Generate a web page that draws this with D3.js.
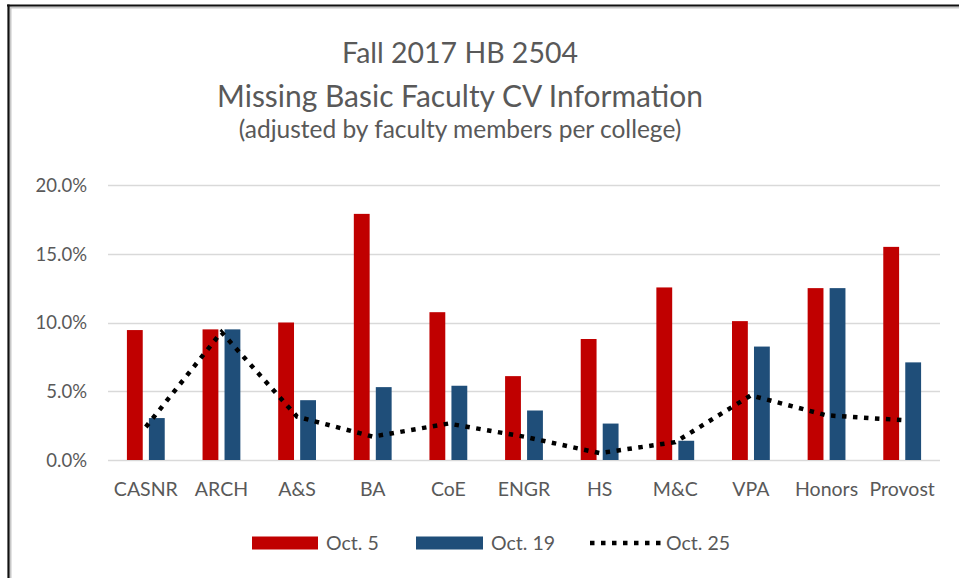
<!DOCTYPE html>
<html><head><meta charset="utf-8">
<script src="https://cdn.jsdelivr.net/npm/d3@7/dist/d3.min.js"></script>
<style>body{margin:0;background:#fff}svg{display:block}</style>
</head><body>
<svg id="c" width="959" height="578"></svg>
<script>
const categories = ["CASNR","ARCH","A&S","BA","CoE","ENGR","HS","M&C","VPA","Honors","Provost"];
const oct5  = [9.45, 9.5, 10.0, 17.9, 10.75, 6.1, 8.8, 12.55, 10.1, 12.5, 15.5];
const oct19 = [3.05, 9.5, 4.35, 5.3, 5.4, 3.6, 2.65, 1.4, 8.25, 12.5, 7.1];
const oct25 = [2.4, 9.3, 3.15, 1.7, 2.65, 1.7, 0.5, 1.3, 4.7, 3.25, 2.9];
const yTicks = [0, 5, 10, 15, 20];
const titleLines = ["Fall 2017 HB 2504", "Missing Basic Faculty CV Information", "(adjusted by faculty members per college)"];
const seriesNames = ["Oct. 5", "Oct. 19", "Oct. 25"];

const FONT = "Lato, 'Open Sans', sans-serif";
const GRAY = "#595959";
const RED = "#C00000", BLUE = "#1F4E79";

const svg = d3.select("#c");

// frame
svg.append("line").attr("x1",8).attr("x2",959).attr("y1",7.5).attr("y2",7.5).attr("stroke","#c8c8c8").attr("stroke-width",2);
svg.append("line").attr("x1",10.5).attr("x2",10.5).attr("y1",6).attr("y2",578).attr("stroke","#c8c8c8").attr("stroke-width",2);
svg.append("line").attr("x1",7).attr("x2",959).attr("y1",5.5).attr("y2",5.5).attr("stroke","#111").attr("stroke-width",2.2);
svg.append("line").attr("x1",8.5).attr("x2",8.5).attr("y1",4.5).attr("y2",578).attr("stroke","#111").attr("stroke-width",2.2);

// title
const titleSpec = [{y:62.5, w:236, fs:30},{y:107, w:486, fs:30},{y:138, w:443, fs:23}];
titleLines.forEach((t,i)=>{
  const s = titleSpec[i];
  const el = svg.append("text").attr("x",460).attr("y",s.y).attr("text-anchor","middle")
    .attr("font-family",FONT).attr("font-size",s.fs).attr("fill",GRAY).text(t);
  const len = el.node().getComputedTextLength();
  el.attr("font-size", s.fs * s.w / len);
});

const x = d3.scaleBand().domain(categories).range([108,940]).paddingInner(0.5).paddingOuter(0.25);
const xi = d3.scaleBand().domain(["a","b"]).range([0, x.bandwidth()]).paddingInner(0.28);
const y = d3.scaleLinear().domain([0,20]).range([460,185]);

// grid
svg.append("g").selectAll("line").data(yTicks).join("line")
  .attr("x1",108).attr("x2",940).attr("y1",d=>Math.round(y(d))+0.5).attr("y2",d=>Math.round(y(d))+0.5)
  .attr("stroke","#D9D9D9").attr("stroke-width",1.3);

// y axis labels
const yAxis = d3.axisLeft(y).tickValues(yTicks).tickFormat(d=>d3.format(".1f")(d)+"%").tickSize(0).tickPadding(0);
const yg = svg.append("g").attr("transform","translate(87,0)").call(yAxis);
yg.select(".domain").remove();
yg.selectAll("text").attr("font-family",FONT).attr("font-size",18.5).attr("fill",GRAY).attr("dy","0.35em");

// x axis labels
const xAxis = d3.axisBottom(x).tickSize(0).tickPadding(0);
const xg = svg.append("g").attr("transform","translate(0,482)").call(xAxis);
xg.select(".domain").remove();
xg.selectAll("text").attr("font-family",FONT).attr("font-size",19.5).attr("fill",GRAY).attr("dy","0.72em");

// bars
const g = svg.append("g");
g.selectAll("rect.r").data(categories).join("rect").attr("class","r")
  .attr("x",(d)=>x(d)+xi("a")).attr("width",xi.bandwidth())
  .attr("y",(d,i)=>y(oct5[i])).attr("height",(d,i)=>y(0)-y(oct5[i])).attr("fill",RED);
g.selectAll("rect.b").data(categories).join("rect").attr("class","b")
  .attr("x",(d)=>x(d)+xi("b")).attr("width",xi.bandwidth())
  .attr("y",(d,i)=>y(oct19[i])).attr("height",(d,i)=>y(0)-y(oct19[i])).attr("fill",BLUE);

// dotted line
const line = d3.line().x((d,i)=>x(categories[i])+x.bandwidth()/2).y(d=>y(d));
svg.append("path").datum(oct25).attr("d",line).attr("fill","none").attr("stroke","#000")
  .attr("stroke-width",4.5).attr("stroke-dasharray","4.5 6.5");

// legend
const leg = svg.append("g");
const ly = 543;
leg.append("rect").attr("x",252).attr("y",ly-6.5).attr("width",66).attr("height",13).attr("fill",RED);
leg.append("text").attr("x",326).attr("y",ly).attr("dy","0.35em").attr("font-family",FONT).attr("font-size",19.5).attr("fill",GRAY).text(seriesNames[0]);
leg.append("rect").attr("x",416).attr("y",ly-6.5).attr("width",67).attr("height",13).attr("fill",BLUE);
leg.append("text").attr("x",491).attr("y",ly).attr("dy","0.35em").attr("font-family",FONT).attr("font-size",19.5).attr("fill",GRAY).text(seriesNames[1]);
leg.append("line").attr("x1",590).attr("x2",664).attr("y1",ly).attr("y2",ly).attr("stroke","#000").attr("stroke-width",4.5).attr("stroke-dasharray","4.5 6.5");
leg.append("text").attr("x",666).attr("y",ly).attr("dy","0.35em").attr("font-family",FONT).attr("font-size",19.5).attr("fill",GRAY).text(seriesNames[2]);
</script>
</body></html>
